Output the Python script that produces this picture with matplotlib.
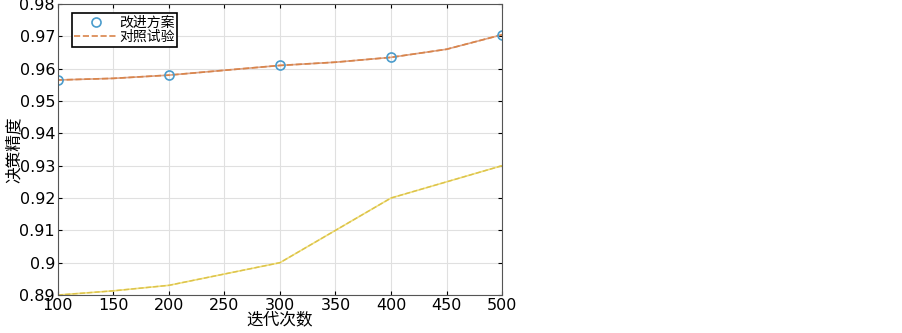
import matplotlib
matplotlib.use('Agg')
import matplotlib.pyplot as plt

plt.rcParams['font.family'] = ['DejaVu Sans', 'Noto Sans CJK SC']

# 迭代次数
iters = [100, 150, 200, 250, 300, 350, 400, 450, 500]
# 改进方案 (markers) / 对照试验 (line)
improved = [0.9565, 0.957, 0.958, 0.9595, 0.961, 0.962, 0.9635, 0.966, 0.9705]
marker_iters = [100, 200, 300, 400, 500]
marker_vals = [0.9565, 0.958, 0.961, 0.9635, 0.9705]
# lower yellow curve
baseline = [0.89, 0.8913, 0.893, 0.8965, 0.900, 0.910, 0.920, 0.925, 0.930]

fig = plt.figure(figsize=(9.03, 3.33), dpi=100)
ax = fig.add_axes([0.064, 0.114, 0.492, 0.874])

ax.plot(iters, improved, color='#dba58a', lw=1.2)
ax.plot(iters, improved, color='#d9844a', lw=1.2, ls='--', label='对照试验')
ax.plot(iters, baseline, color='#f0e080', lw=1.2)
ax.plot(iters, baseline, color='#dcc24a', lw=1.0, ls='--')
ax.plot(marker_iters, marker_vals, 'o', mfc='none', mec='#4a9ccc', ms=6.5, mew=1.2, label='改进方案')

ax.set_xlim(100, 500)
ax.set_ylim(0.89, 0.98)
ax.set_xticks(range(100, 501, 50))
ax.set_yticks([0.89, 0.9, 0.91, 0.92, 0.93, 0.94, 0.95, 0.96, 0.97, 0.98])
ax.set_yticklabels(['0.89', '0.9', '0.91', '0.92', '0.93', '0.94', '0.95', '0.96', '0.97', '0.98'])
ax.tick_params(direction='in', top=True, right=True, labelsize=11.5, length=3, pad=2)
ax.grid(True, color='#e0e0e0', lw=0.8)
for s in ax.spines.values():
    s.set_color('#555555')

ax.set_xlabel('迭代次数', family=['Noto Sans CJK SC'], fontsize=12, labelpad=-1)
ax.set_ylabel('决策精度', family=['Noto Sans CJK SC'], fontsize=12)
ax.yaxis.set_label_coords(-0.08, 0.5)

h, l = ax.get_legend_handles_labels()
leg = ax.legend([h[1], h[0]], [l[1], l[0]], loc='upper left', bbox_to_anchor=(0.025, 0.98),
                prop={'family': 'Noto Sans CJK SC', 'size': 10}, fancybox=False,
                edgecolor='black', framealpha=1, borderpad=0.2, labelspacing=0.05,
                handlelength=3.1, handletextpad=0.1, borderaxespad=0.2)
leg.get_frame().set_linewidth(1.2)

fig.savefig('out.png', dpi=100)
